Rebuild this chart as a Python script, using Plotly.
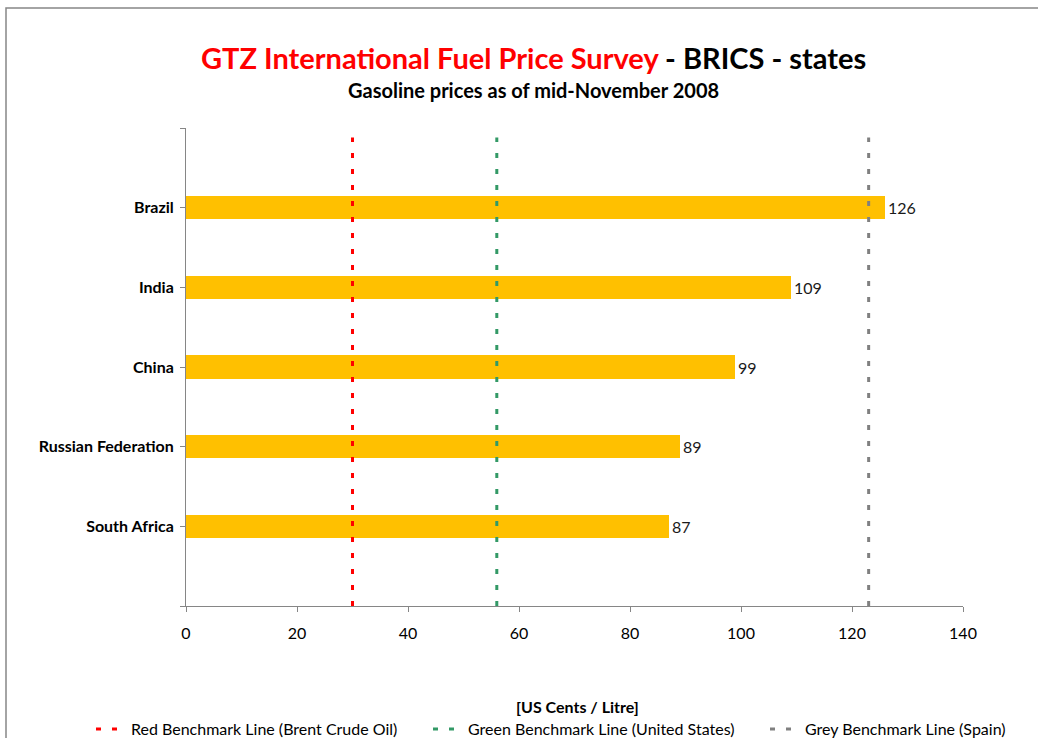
import plotly.graph_objects as go

# ---- data ----
countries = ["Brazil", "India", "China", "Russian Federation", "South Africa"]
prices = [126, 109, 99, 89, 87]
benchmark_names = ["Red Benchmark Line (Brent Crude Oil)",
                   "Green Benchmark Line (United States)",
                   "Grey Benchmark Line (Spain)"]
benchmark_values = [30, 56, 123]
benchmark_colors = ["#FF0000", "#339966", "#808080"]
benchmark_span = [0, 5.88]
x_ticks = [0, 20, 40, 60, 80, 100, 120, 140]

FONT = "Lato"
n = len(countries)
y_pos = [n - i for i in range(n)]

fig = go.Figure()

fig.add_trace(go.Bar(
    x=prices, y=y_pos, orientation="h",
    marker=dict(color="#FFC000", line=dict(width=0)),
    width=0.29,
    text=[str(v) for v in prices], textposition="outside",
    textfont=dict(family=FONT, size=16, color="#1a1a1a"),
    cliponaxis=False, showlegend=False, hoverinfo="x+y",
))

legend_ids = ["legend", "legend2", "legend3"]
for name, val, col, lid in zip(benchmark_names, benchmark_values, benchmark_colors, legend_ids):
    fig.add_trace(go.Scatter(
        x=[val, val], y=benchmark_span, mode="lines", name=name,
        line=dict(color=col, width=3, dash="5px,11px"),
        legend=lid,
    ))

# plot area in px: x 186..963, y 128..606
L, R, T, B = 186, 963, 128, 606
W, H = 1038, 738
pw, ph = R - L, B - T

def px_x(p):
    return (p - L) / pw

def px_y(p):
    return (B - p) / ph

def legend_at(xpix):
    return dict(
        orientation="h", xanchor="left", yanchor="middle",
        x=px_x(xpix), y=px_y(729),
        font=dict(family=FONT, size=16, color="#000000"),
        bgcolor="rgba(0,0,0,0)",
    )

fig.update_layout(
    width=W, height=H,
    margin=dict(l=L, r=W - R, t=T, b=H - B, autoexpand=False),
    paper_bgcolor="white", plot_bgcolor="white",
    font=dict(family=FONT, size=16, color="#000000"),
    bargap=0,
    xaxis=dict(
        range=[0, 140], tickvals=x_ticks, ticktext=[str(t) for t in x_ticks],
        showgrid=False, zeroline=False, showline=True, linecolor="#868686", linewidth=1,
        ticks="outside", ticklen=5, tickcolor="#868686",
        tickfont=dict(family=FONT, size=16, color="#000000"),
        ticklabelstandoff=8,
    ),
    yaxis=dict(
        range=[0, n + 1],
        tickvals=list(range(0, n + 2)),
        ticktext=[""] + countries[::-1] + [""],
        showgrid=False, zeroline=False, showline=True, linecolor="#868686", linewidth=1,
        ticks="outside", ticklen=5, tickcolor="#868686",
        tickfont=dict(family=FONT, size=16, color="#000000", weight="bold"),
        ticklabelstandoff=3,
    ),
    legend=legend_at(91),
    legend2=legend_at(428),
    legend3=legend_at(765),
    showlegend=True,
)

fig.add_annotation(
    xref="paper", yref="paper", x=px_x(533), y=px_y(57),
    text="<span style='color:#FF0000'>GTZ International Fuel Price Survey</span> - BRICS - states",
    showarrow=False, xanchor="center", yanchor="middle",
    font=dict(family=FONT, size=29, color="#000000", weight="bold"),
)
fig.add_annotation(
    xref="paper", yref="paper", x=px_x(533), y=px_y(90),
    text="Gasoline prices as of mid-November 2008",
    showarrow=False, xanchor="center", yanchor="middle",
    font=dict(family=FONT, size=20, color="#000000", weight="bold"),
)
fig.add_annotation(
    xref="paper", yref="paper", x=px_x(577), y=px_y(706),
    text="[US Cents / Litre]",
    showarrow=False, xanchor="center", yanchor="middle",
    font=dict(family=FONT, size=16, color="#000000", weight="bold"),
)

# outer chart border (partially off-screen like the reference)
fig.add_shape(
    type="rect", xref="paper", yref="paper",
    x0=px_x(6), y0=px_y(760), x1=px_x(1060), y1=px_y(8),
    line=dict(color="#868686", width=1.5), fillcolor="rgba(0,0,0,0)", layer="below",
)

fig.write_html("out.html", config={"displayModeBar": False},
               post_script="document.body.style.margin='0px';")
